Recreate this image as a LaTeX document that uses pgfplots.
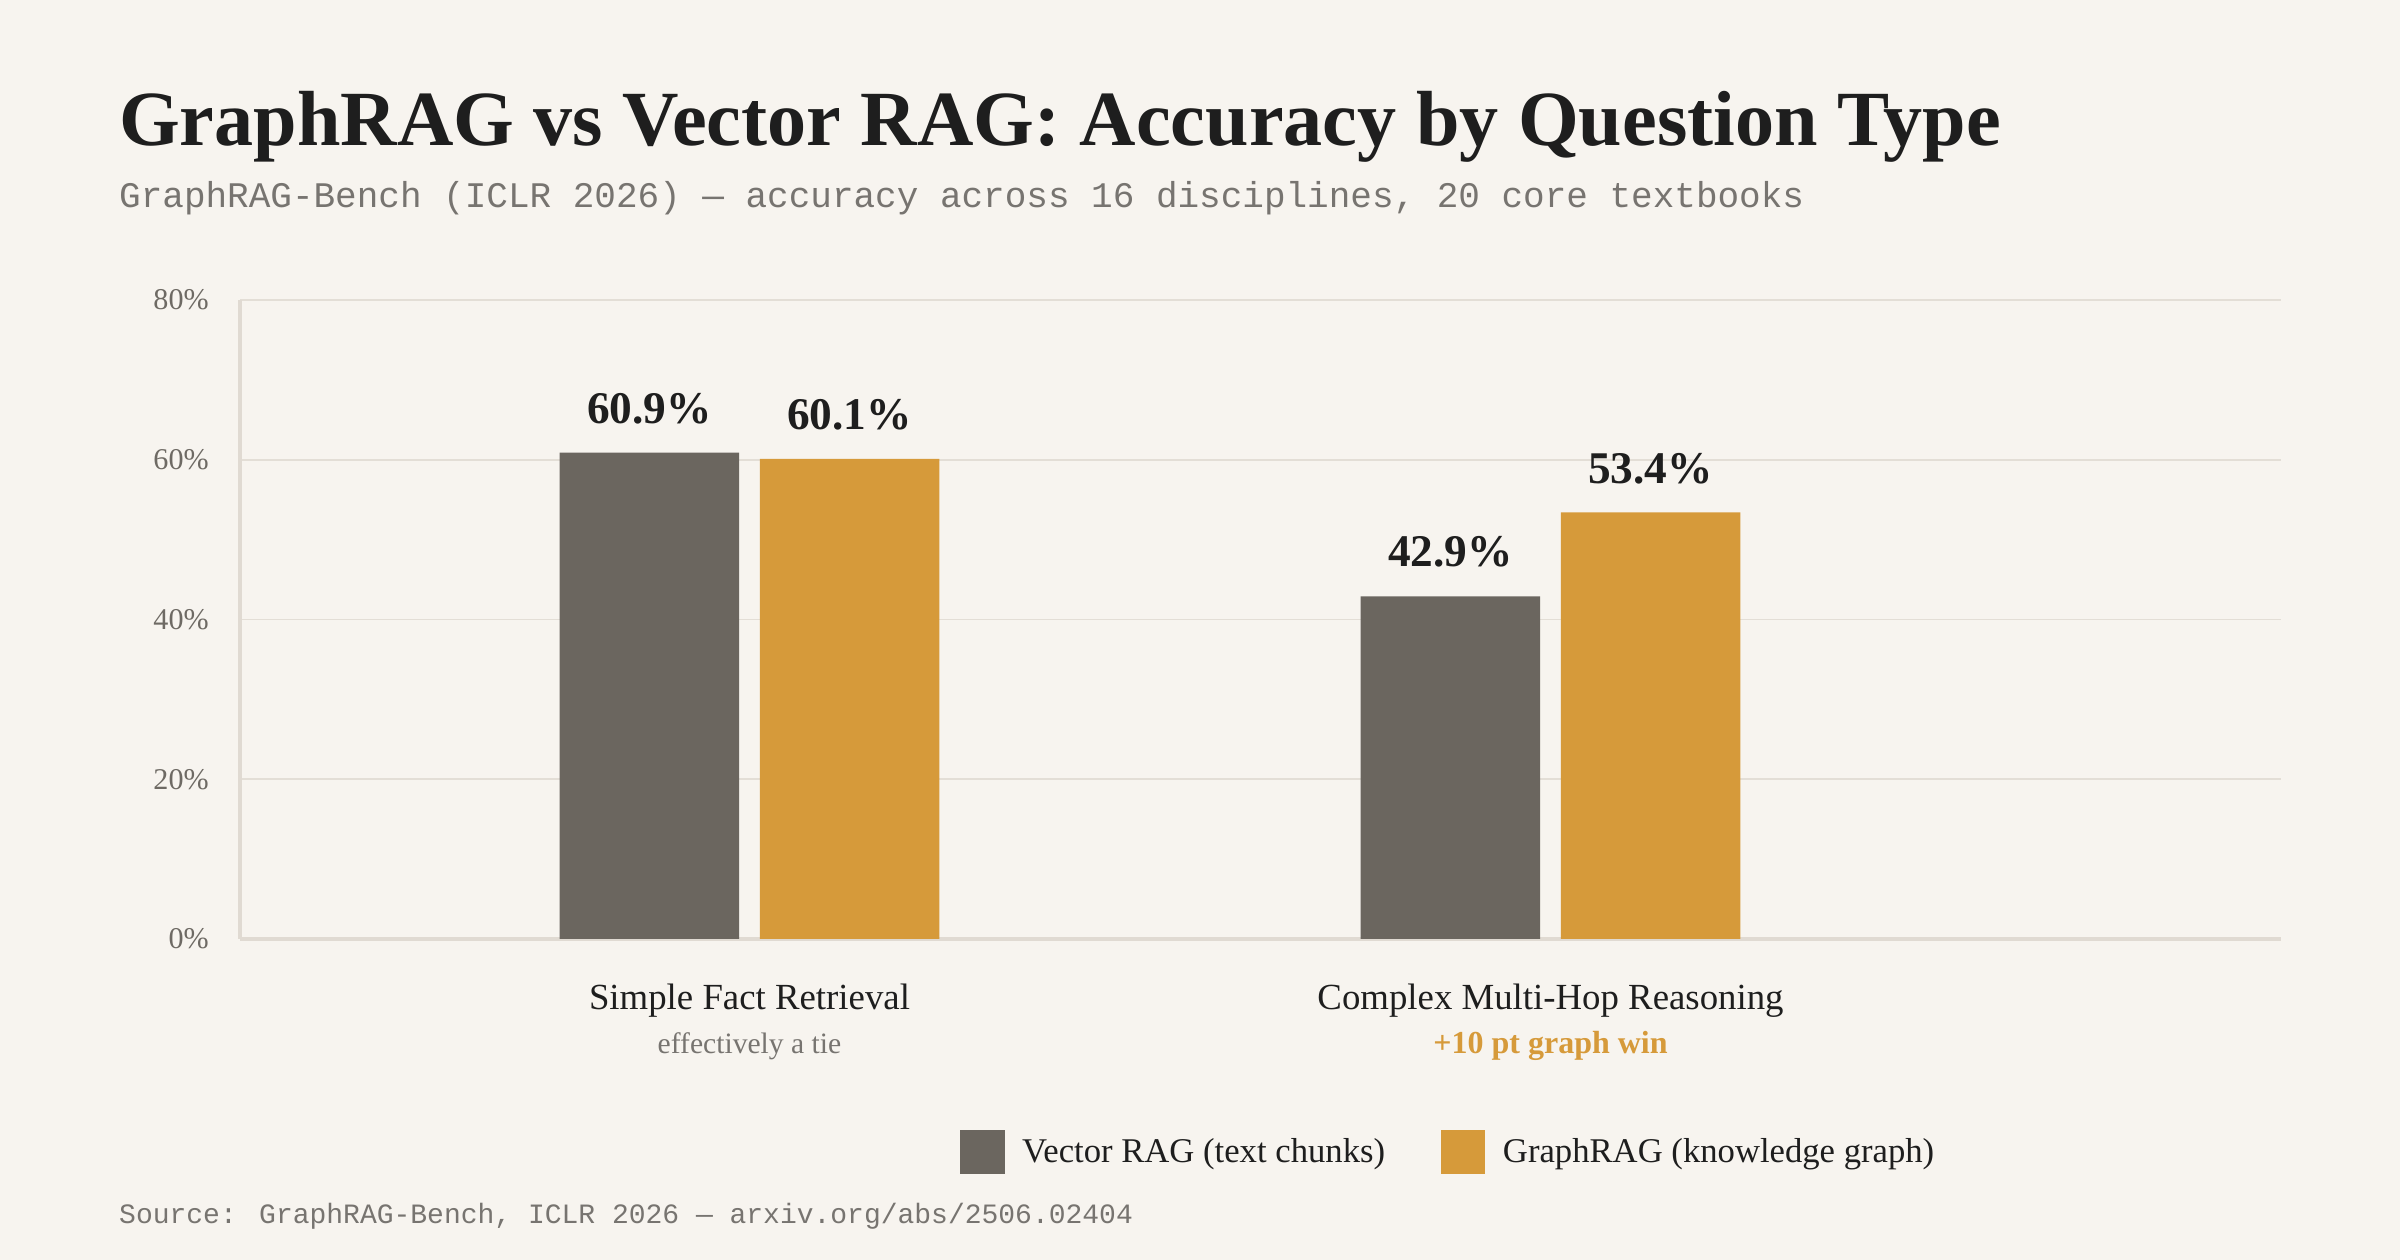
\documentclass[border=0pt]{standalone}
\usepackage{fontspec}
\setmainfont{Liberation Serif}
\newfontfamily\monofont{Liberation Mono}
\usepackage{pgfplots}
\pgfplotsset{compat=1.18}

\definecolor{bg}{HTML}{F7F4EF}
\definecolor{vec}{HTML}{6B665F}
\definecolor{grp}{HTML}{D69A3A}
\definecolor{ink}{HTML}{1E1E1E}
\definecolor{tick}{HTML}{6E6A64}
\definecolor{sub}{HTML}{777470}
\definecolor{gridc}{HTML}{E3DED6}
\definecolor{axisc}{HTML}{E0DAD2}

\pgfplotsset{
  sqlegend/.style={legend image code/.code={\fill[##1] (0pt,-8.25pt) rectangle (16.6pt,8.25pt);}},
}

\begin{document}
\begin{tikzpicture}
\fill[bg] (0,0) rectangle (900pt,472.5pt);
\path[use as bounding box] (0,0) rectangle (900pt,472.5pt);

\node[anchor=base west, inner sep=0pt, text=ink, font=\fontsize{29.3}{34}\selectfont\bfseries]
  at (44.5pt,418.1pt) {GraphRAG vs Vector RAG: Accuracy by Question Type};
\node[anchor=base west, inner sep=0pt, text=sub, font=\monofont\fontsize{13.5}{16}\selectfont]
  at (44.5pt,394.5pt) {GraphRAG-Bench (ICLR 2026) — accuracy across 16 disciplines, 20 core textbooks};

\begin{axis}[
  at={(90pt,120.4pt)}, anchor=south west,
  scale only axis, width=765.4pt, height=239.6pt,
  xmin=-0.636, xmax=1.912, ymin=0, ymax=80,
  clip=false,
  ybar, bar width=67.3pt,
  xtick={0,1},
  xticklabels={Simple Fact Retrieval, Complex Multi-Hop Reasoning},
  ytick={0,20,40,60,80},
  yticklabel={\pgfmathprintnumber{\tick}\%},
  /pgf/number format/assume math mode=true,
  major tick length=0pt,
  axis lines*=left,
  axis line style={draw=axisc, line width=1.2pt},
  ymajorgrids, grid style={draw=gridc, line width=0.6pt},
  yticklabel style={font=\fontsize{11.3}{13}\selectfont, text=tick, xshift=-8.2pt},
  xticklabel style={font=\fontsize{13.8}{16}\selectfont, text=ink, anchor=base, yshift=-26.6pt},
  nodes near coords={\pgfmathprintnumber[fixed,fixed zerofill,precision=1]{\pgfplotspointmeta}\%},
  nodes near coords style={anchor=base, yshift=11pt, text=ink, font=\fontsize{17}{20}\selectfont\bfseries},
  legend style={at={(0.5928,-0.3335)}, anchor=center, draw=none, fill=none,
    legend columns=2, font=\fontsize{13}{15}\selectfont, text=ink,
    /tikz/every odd column/.append style={column sep=4.6pt},
    /tikz/every even column/.append style={column sep=19pt}},
]
\addplot[fill=vec, draw=none, bar shift=-37.55pt, sqlegend] coordinates {(0,60.9) (1,42.9)};
\addplot[fill=grp, draw=none, bar shift=37.55pt, sqlegend] coordinates {(0,60.1) (1,53.4)};
\legend{Vector RAG (text chunks), GraphRAG (knowledge graph)}

\node[anchor=base, inner sep=0pt, text=sub, font=\fontsize{11.1}{13}\selectfont]
  at (axis cs:0,0) [yshift=-43pt] {effectively a tie};
\node[anchor=base, inner sep=0pt, text=grp, font=\fontsize{12}{14}\selectfont\bfseries]
  at (axis cs:1,0) [yshift=-43pt] {+10 pt graph win};
\end{axis}

\node[anchor=base west, inner sep=0pt, text=sub, font=\monofont\fontsize{10.5}{12}\selectfont]
  at (44.5pt,13.8pt) {Source: GraphRAG-Bench, ICLR 2026 — arxiv.org/abs/2506.02404};
\end{tikzpicture}
\end{document}
